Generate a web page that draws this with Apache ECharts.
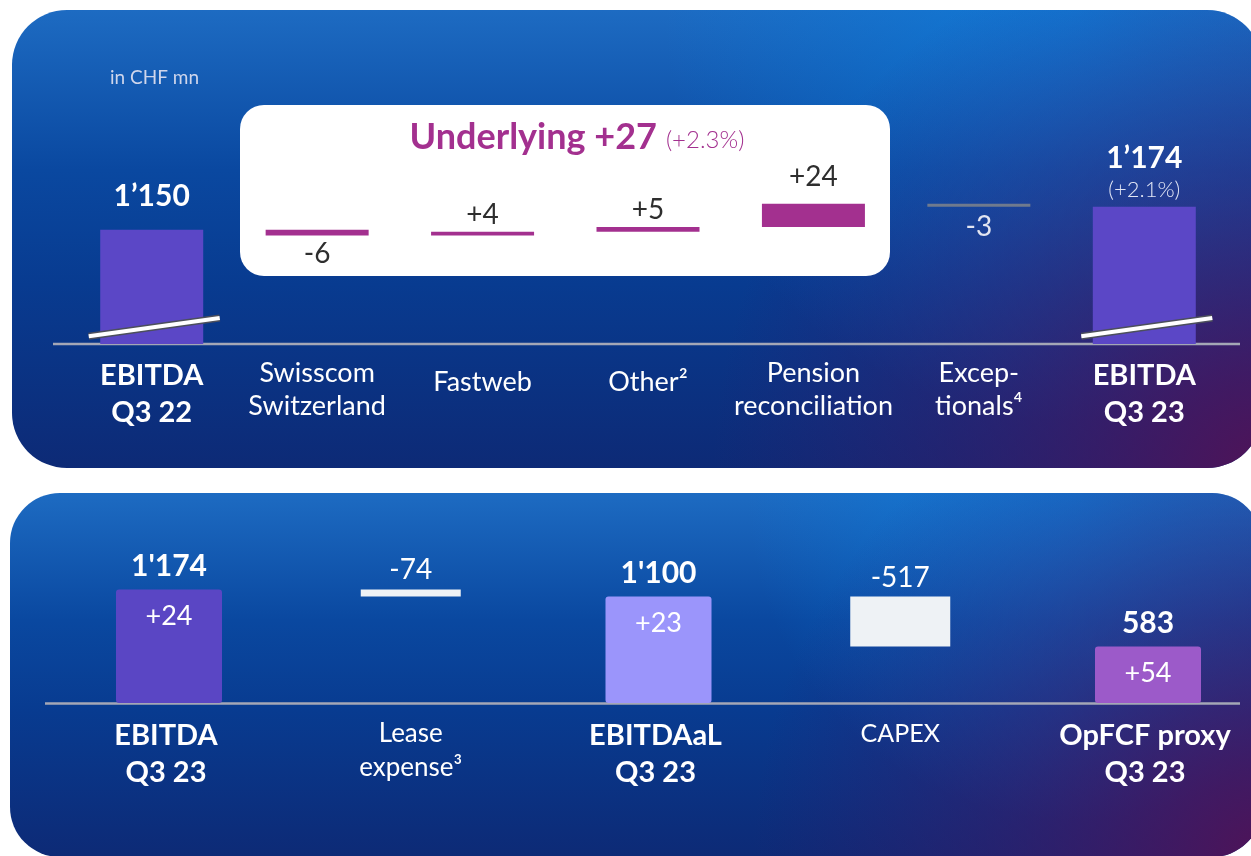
<!DOCTYPE html>
<html>
<head>
<meta charset="utf-8">
<script src="https://cdn.jsdelivr.net/npm/echarts/dist/echarts.min.js"></script>
<style>
  html, body { margin: 0; padding: 0; background: #fff; }
  #chart { width: 1251px; height: 856px; }
</style>
</head>
<body>
<div id="chart"></div>
<script>
// upper waterfall (in CHF mn)
var topCategories = ['EBITDA\nQ3 22', 'Swisscom\nSwitzerland', 'Fastweb', 'Other²', 'Pension\nreconciliation', 'Excep-\ntionals⁴', 'EBITDA\nQ3 23'];
var topStart = 1150;
var topEnd = 1174;
var topDeltas = [-6, 4, 5, 24, -3];
var topDeltaLabels = ['-6', '+4', '+5', '+24', '-3'];
var topStartLabel = '1’150';
var topEndLabel = '1’174';
var topEndChange = '(+2.1%)';
var underlyingText = 'Underlying +27';
var underlyingPct = '(+2.3%)';

// lower bridge
var bottomCategories = ['EBITDA\nQ3 23', 'Lease\nexpense³', 'EBITDAaL\nQ3 23', 'CAPEX', 'OpFCF proxy\nQ3 23'];
var bottomTotals = [1174, null, 1100, null, 583];
var bottomDeductions = [null, -74, null, -517, null];
var bottomTotalLabels = ["1'174", '', "1'100", '', '583'];
var bottomYoyLabels = ['+24', '', '+23', '', '+54'];
var bottomDeductionLabels = ['', '-74', '', '-517', ''];

var FONT = 'Lato, "Open Sans", sans-serif';
var MAGENTA = '#a3308f';
var chart = echarts.init(document.getElementById('chart'));

// build upper waterfall pieces
var topTotalData = [{
  value: topStart,
  label: { formatter: topStartLabel, distance: 18 }
}];
var topBaseData = ['-'];
var topStepData = ['-'];
var run = topStart;
topDeltas.forEach(function (d, i) {
  var next = run + d;
  var inBox = i < 4;
  topBaseData.push(Math.min(run, next));
  topStepData.push({
    value: Math.abs(d),
    itemStyle: { color: inBox ? MAGENTA : '#6f7a8e' },
    label: {
      show: true,
      position: d < 0 ? 'bottom' : 'top',
      distance: d < 0 ? (inBox ? 4 : 6) : (d > 10 ? 13 : 3),
      formatter: topDeltaLabels[i],
      color: inBox ? '#2e2e2e' : '#e2e5f1',
      fontSize: 28,
      fontFamily: FONT
    }
  });
  topTotalData.push('-');
  run = next;
});
topBaseData.push('-');
topStepData.push('-');
topTotalData.push({
  value: topEnd,
  label: { formatter: '{big|' + topEndLabel + '}\n{pct|' + topEndChange + '}', distance: 4 }
});

// build lower bridge pieces
var bottomColors = ['#5a46c4', null, '#9b95fb', null, '#9c5ac9'];
var bottomTotalData = [], bottomYoyData = [], bottomBaseData = [], bottomDedData = [];
bottomCategories.forEach(function (c, i) {
  if (bottomTotals[i] != null) {
    bottomTotalData.push({ value: bottomTotals[i], itemStyle: { color: bottomColors[i] } });
    bottomYoyData.push(bottomTotals[i]);
    bottomBaseData.push('-');
    bottomDedData.push('-');
  } else {
    var prev = bottomTotals[i - 1];
    bottomTotalData.push('-');
    bottomYoyData.push('-');
    bottomBaseData.push(prev + bottomDeductions[i]);
    bottomDedData.push(Math.abs(bottomDeductions[i]));
  }
});

function catLabel(totalIdx) {
  return function (value, index) {
    var lines = value.split('\n');
    var style = totalIdx.indexOf(index) >= 0 ? 'b' : (lines.length === 1 ? 's' : 'r');
    return lines.map(function (l) { return '{' + style + '|' + l + '}'; }).join('\n');
  };
}

function panel(id, x, y, w, h, r, purpleR) {
  var shape = { x: x, y: y, width: w, height: h, r: r };
  return [
    { type: 'rect', id: id + 'a', z: -4, silent: true, shape: shape,
      style: { fill: new echarts.graphic.LinearGradient(0, 0, 0, 1, [
        { offset: 0, color: '#1d6bc2' },
        { offset: 0.35, color: '#0a48a0' },
        { offset: 0.6, color: '#083b90' },
        { offset: 1, color: '#0d2a76' }
      ]) } },
    { type: 'rect', id: id + 'b', z: -3, silent: true, shape: shape,
      style: { fill: new echarts.graphic.RadialGradient(0.85, 0, 0.9, [
        { offset: 0, color: 'rgba(8,128,225,0.6)' },
        { offset: 1, color: 'rgba(8,128,225,0)' }
      ]) } },
    { type: 'rect', id: id + 'c', z: -2, silent: true, shape: shape,
      style: { fill: new echarts.graphic.RadialGradient(1, 1, purpleR, [
        { offset: 0, color: 'rgba(82,18,86,0.95)' },
        { offset: 0.5, color: 'rgba(70,22,100,0.45)' },
        { offset: 1, color: 'rgba(60,25,110,0)' }
      ]) } }
  ];
}

var graphics = [].concat(
  panel('p1', 12, 10, 1250, 458, 55, 1.2),
  panel('p2', 10, 493, 1252, 364, 50, 1.4),
  [
    { type: 'rect', id: 'box', z: 0, silent: true,
      shape: { x: 240, y: 105, width: 650, height: 171, r: 24 },
      style: { fill: '#ffffff' } },
    { type: 'line', id: 'base1', z: 1, silent: true,
      shape: { x1: 53, y1: 344, x2: 1240, y2: 344 },
      style: { stroke: '#a4a7b6', lineWidth: 2.5 } },
    { type: 'line', id: 'base2', z: 1, silent: true,
      shape: { x1: 45, y1: 703.5, x2: 1240, y2: 703.5 },
      style: { stroke: '#a4a7b6', lineWidth: 2.5 } },
    { type: 'text', id: 'unit', z: 1, silent: true,
      style: { text: 'in CHF mn', x: 110, y: 78, fill: '#cfd6ec', font: '19px ' + FONT,
        textVerticalAlign: 'middle', verticalAlign: 'middle' } },
    { type: 'text', id: 'under', z: 3, silent: true,
      style: {
        text: '{u|' + underlyingText + '}{p|' + underlyingPct + '}',
        x: 577, y: 137,
        textAlign: 'center', align: 'center',
        textVerticalAlign: 'middle', verticalAlign: 'middle',
        rich: {
          u: { fontFamily: FONT, fontSize: 36, fontWeight: 'bold', color: MAGENTA, fill: MAGENTA, lineHeight: 42 },
          p: { fontFamily: FONT, fontSize: 24, fontWeight: 300, color: MAGENTA, fill: MAGENTA, lineHeight: 42, padding: [6, 0, 0, 9] }
        }
      } }
  ]
);

var option = {
  animation: false,
  textStyle: { fontFamily: FONT },
  grid: [
    { left: 69, top: 200, width: 1158, height: 144 },
    { left: 166, top: 585, width: 979, height: 118 }
  ],
  xAxis: [
    {
      gridIndex: 0, type: 'category', data: topCategories,
      axisLine: { show: false }, axisTick: { show: false },
      axisLabel: {
        interval: 0, margin: 13, color: '#fff',
        formatter: catLabel([0, topCategories.length - 1]),
        rich: {
          b: { fontFamily: FONT, fontSize: 29, fontWeight: 'bold', color: '#fff', lineHeight: 37 },
          r: { fontFamily: FONT, fontSize: 27, color: '#fff', lineHeight: 33 },
          s: { fontFamily: FONT, fontSize: 27, color: '#fff', lineHeight: 51 }
        }
      }
    },
    {
      gridIndex: 1, type: 'category', data: bottomCategories, boundaryGap: false,
      axisLine: { show: false }, axisTick: { show: false },
      axisLabel: {
        interval: 0, margin: 14, color: '#fff',
        formatter: catLabel([0, 2, 4]),
        rich: {
          b: { fontFamily: FONT, fontSize: 29, fontWeight: 'bold', color: '#fff', lineHeight: 37 },
          r: { fontFamily: FONT, fontSize: 26, color: '#fff', lineHeight: 34 },
          s: { fontFamily: FONT, fontSize: 25, color: '#fff', lineHeight: 34 }
        }
      }
    }
  ],
  yAxis: [
    { gridIndex: 0, type: 'value', min: 1031, max: 1181, show: false },
    { gridIndex: 1, type: 'value', min: 0, max: 1220, show: false }
  ],
  series: [
    {
      name: 'Total', type: 'bar', xAxisIndex: 0, yAxisIndex: 0, barWidth: 103, barGap: '-100%',
      silent: true, data: topTotalData,
      itemStyle: { color: '#5b47c6' },
      label: {
        show: true, position: 'top', color: '#fff', fontFamily: FONT, fontSize: 30, fontWeight: 'bold',
        rich: {
          big: { fontFamily: FONT, fontSize: 30, fontWeight: 'bold', color: '#fff', lineHeight: 36 },
          pct: { fontFamily: FONT, fontSize: 22, fontWeight: 300, color: '#e2e6f5', lineHeight: 26 }
        }
      }
    },
    {
      name: 'Base', type: 'bar', stack: 'w', xAxisIndex: 0, yAxisIndex: 0, barWidth: 103, barGap: '-100%',
      silent: true, data: topBaseData, itemStyle: { color: 'transparent' }
    },
    {
      name: 'Change', type: 'bar', stack: 'w', xAxisIndex: 0, yAxisIndex: 0, barWidth: 103, barGap: '-100%',
      silent: true, data: topStepData
    },
    {
      name: 'Bridge total', type: 'bar', xAxisIndex: 1, yAxisIndex: 1, barWidth: 106, barGap: '-100%',
      silent: true, clip: false, data: bottomTotalData,
      itemStyle: { borderRadius: 3 },
      label: {
        show: true, position: 'top', distance: 8, color: '#fff', fontFamily: FONT, fontSize: 30, fontWeight: 'bold',
        formatter: function (p) { return bottomTotalLabels[p.dataIndex]; }
      }
    },
    {
      name: 'YoY', type: 'bar', xAxisIndex: 1, yAxisIndex: 1, barWidth: 106, barGap: '-100%',
      silent: true, clip: false, data: bottomYoyData, itemStyle: { color: 'transparent' },
      label: {
        show: true, position: 'insideTop', distance: 13, color: '#fff', fontFamily: FONT, fontSize: 27,
        formatter: function (p) { return bottomYoyLabels[p.dataIndex]; }
      }
    },
    {
      name: 'Bridge base', type: 'bar', stack: 'd', xAxisIndex: 1, yAxisIndex: 1, barWidth: 100, barGap: '-100%',
      silent: true, clip: false, data: bottomBaseData, itemStyle: { color: 'transparent' }
    },
    {
      name: 'Deduction', type: 'bar', stack: 'd', xAxisIndex: 1, yAxisIndex: 1, barWidth: 100, barGap: '-100%',
      silent: true, clip: false, data: bottomDedData, itemStyle: { color: '#eef2f5' },
      label: {
        show: true, position: 'top', distance: 5, color: '#fff', fontFamily: FONT, fontSize: 28,
        formatter: function (p) { return bottomDeductionLabels[p.dataIndex]; }
      }
    }
  ],
  graphic: graphics
};

chart.setOption(option);

// axis-break slashes on the two EBITDA bars, placed through the chart's own scale
var slashes = [];
[0, topCategories.length - 1].forEach(function (idx, k) {
  var a = chart.convertToPixel({ xAxisIndex: 0, yAxisIndex: 0 }, [idx, 1039]);
  var b = chart.convertToPixel({ xAxisIndex: 0, yAxisIndex: 0 }, [idx, 1058]);
  var shape = { x1: a[0] - 63, y1: a[1], x2: b[0] + 68, y2: b[1] };
  slashes.push({ type: 'line', id: 'slashA' + k, z: 10, silent: true, shape: shape,
    style: { stroke: '#4c4f5c', lineWidth: 7 } });
  slashes.push({ type: 'line', id: 'slashB' + k, z: 11, silent: true, shape: shape,
    style: { stroke: '#ffffff', lineWidth: 4 } });
});
chart.setOption({ graphic: slashes });
</script>
</body>
</html>
